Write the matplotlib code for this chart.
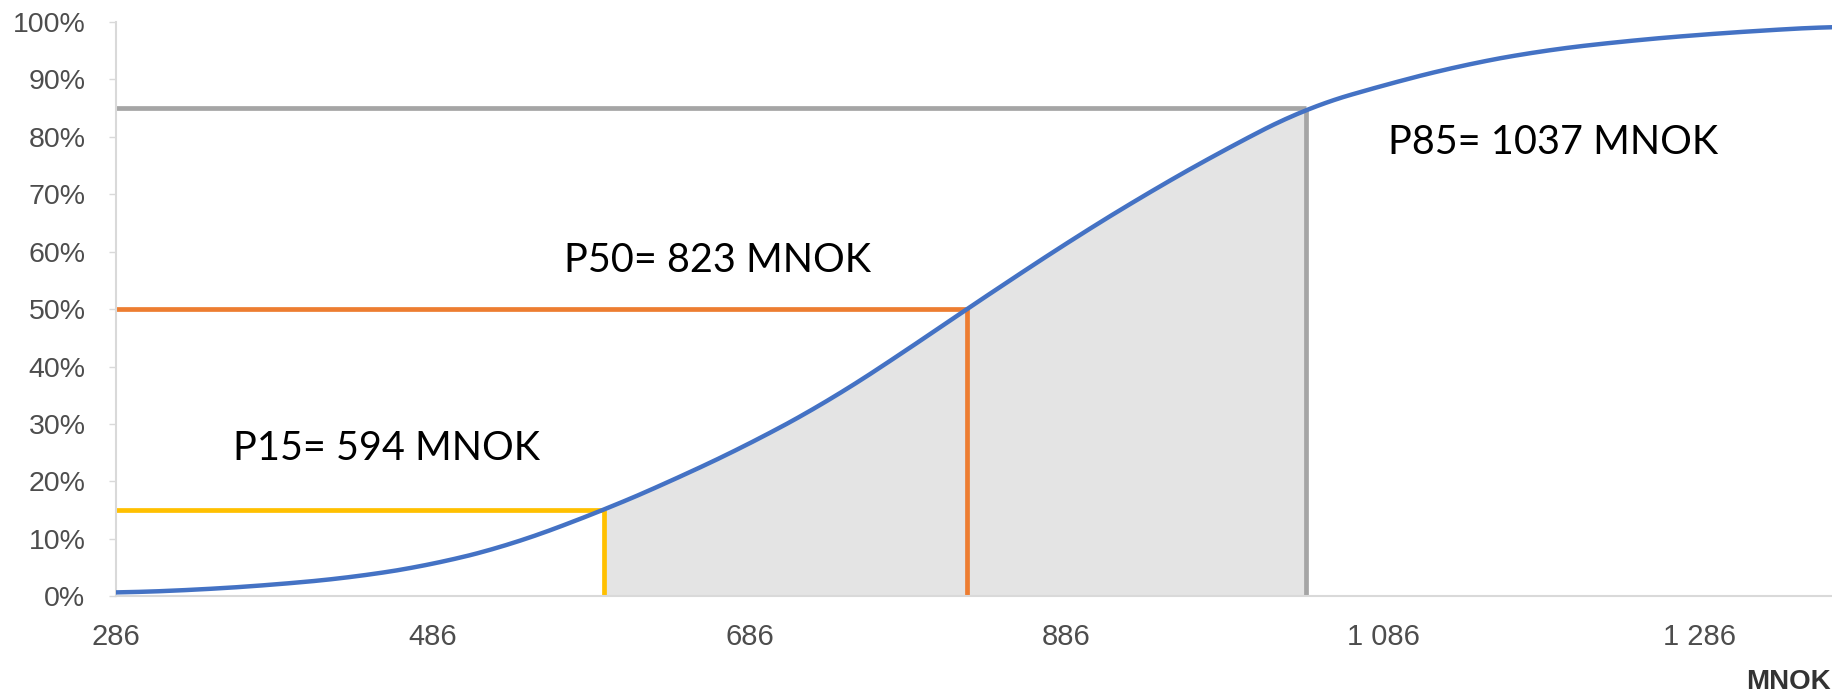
import matplotlib
matplotlib.use('Agg')

import numpy as np
import matplotlib.pyplot as plt
from matplotlib.ticker import FuncFormatter

# cumulative cost distribution (MNOK vs. probability)
kost = [286, 336, 386, 436, 486, 536, 594, 636, 686, 736, 786, 823,
        886, 936, 986, 1037, 1086, 1136, 1186, 1236, 1286, 1336, 1370]
sannsynlighet = [0.006, 0.011, 0.020, 0.033, 0.055, 0.090, 0.150, 0.200,
                 0.265, 0.340, 0.430, 0.500, 0.615, 0.700, 0.778, 0.850,
                 0.890, 0.925, 0.950, 0.966, 0.978, 0.987, 0.992]

# percentiles: name, value, level, colour
p_navn = ['P15', 'P50', 'P85']
p_verdi = [594, 823, 1037]
p_niva = [0.15, 0.50, 0.85]
p_farge = ['#FFC000', '#ED7D31', '#A5A5A5']
p_tekst_pos = [(360, 0.258), (569, 0.585), (1089, 0.79)]

x_ticks = [286, 486, 686, 886, 1086, 1286]
y_ticks = np.arange(0, 1.01, 0.1)

fig = plt.figure(figsize=(18.33, 6.99), dpi=100)
ax = fig.add_axes([0.0633, 0.147, 0.9367, 0.8215])

x = np.array(kost)
y = np.array(sannsynlighet)

# grey area between P15 and P85
lo, hi = p_verdi[0], p_verdi[-1]
xf = np.linspace(lo, hi, 300)
yf = np.interp(xf, x, y)
ax.fill_between(xf, 0, yf, color='#E4E4E4', lw=0, zorder=1)

# percentile guide lines
for navn, v, niva, farge, (tx, ty) in zip(p_navn, p_verdi, p_niva, p_farge, p_tekst_pos):
    ax.plot([kost[0], v], [niva, niva], color=farge, lw=3.4,
            solid_capstyle='butt', zorder=2)
    ax.plot([v, v], [0, niva], color=farge, lw=3.4,
            solid_capstyle='butt', zorder=2)
    ax.text(tx, ty, f'{navn}= {v} MNOK', fontsize=28.5, family='Lato',
            color='black', va='center', ha='left')

# smooth the curve through the read points
xs = np.linspace(x[0], x[-1], 600)
ys = np.interp(xs, x, y)
k = 15
ys_s = np.convolve(np.pad(ys, k, mode='edge'), np.ones(2 * k + 1) / (2 * k + 1), mode='valid')
ax.plot(xs, ys_s, color='#4472C4', lw=3.2, zorder=3, solid_capstyle='round')

ax.set_xlim(286, 1370)
ax.set_ylim(0, 1)
ax.set_xticks(x_ticks)
ax.set_xticklabels([f'{t:,}'.replace(',', ' ') for t in x_ticks])
ax.set_yticks(y_ticks)
ax.yaxis.set_major_formatter(FuncFormatter(lambda v, p: f'{v:.0%}'))

for s in ['top', 'right']:
    ax.spines[s].set_visible(False)
for s in ['left', 'bottom']:
    ax.spines[s].set_color('#D9D9D9')
    ax.spines[s].set_linewidth(1.5)

ax.tick_params(axis='y', length=5, width=1, color='#D9D9D9', pad=17,
               labelsize=20.5, labelcolor='#4D4D4D')
ax.tick_params(axis='x', length=0, pad=19, labelsize=21, labelcolor='#4D4D4D')
for lab in ax.get_xticklabels() + ax.get_yticklabels():
    lab.set_family('Liberation Sans')

fig.text(0.999, 0.024, 'MNOK', ha='right', va='center', fontsize=20,
         fontweight='bold', color='#333333', family='Liberation Sans')

fig.savefig('out.png', dpi=100)
plt.close(fig)
